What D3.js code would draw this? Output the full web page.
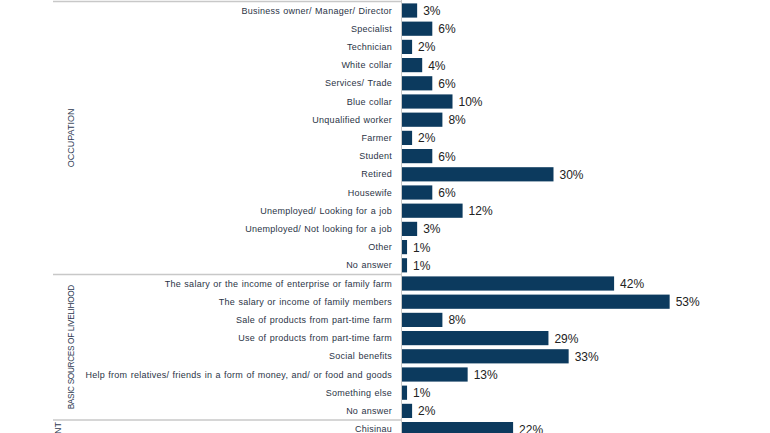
<!DOCTYPE html>
<html>
<head>
<meta charset="utf-8">
<script src="https://cdn.jsdelivr.net/npm/d3@7"></script>
<style>
  body { margin: 0; background: #fff; }
  svg { display: block; }
</style>
</head>
<body>
<svg width="770" height="433"></svg>
<script>
const occupation = [
  "Business owner/ Manager/ Director", "Specialist", "Technician", "White collar",
  "Services/ Trade", "Blue collar", "Unqualified worker", "Farmer", "Student",
  "Retired", "Housewife", "Unemployed/ Looking for a job",
  "Unemployed/ Not looking for a job", "Other", "No answer"
];
const occupationValues = [3, 6, 2, 4, 6, 10, 8, 2, 6, 30, 6, 12, 3, 1, 1];

const livelihood = [
  "The salary or the income of enterprise or family farm",
  "The salary or income of family members",
  "Sale of products from part-time farm",
  "Use of products from part-time farm",
  "Social benefits",
  "Help from relatives/ friends in a form of money, and/ or food and goods",
  "Something else",
  "No answer"
];
const livelihoodValues = [42, 53, 8, 29, 33, 13, 1, 2];

const settlement = ["Chisinau"];
const settlementValues = [22];

const groups = [
  { name: "OCCUPATION", labels: occupation, values: occupationValues },
  { name: "BASIC SOURCES OF LIVELIHOOD", labels: livelihood, values: livelihoodValues },
  { name: "TYPE OF SETTLEMENT", labels: settlement, values: settlementValues }
];

const svg = d3.select("svg"),
  width = +svg.attr("width"),
  height = +svg.attr("height");

const font = "Liberation Sans, Arial, sans-serif";

// flatten rows
const rows = [];
groups.forEach((g, gi) => {
  g.labels.forEach((l, i) => rows.push({ id: gi + "-" + i, label: l, value: g.values[i], group: gi }));
});

const y = d3.scaleBand()
  .domain(rows.map((d) => d.id))
  .range([1.4, 1.4 + rows.length * 18.2])
  .paddingInner(0.22)
  .paddingOuter(0.11);

const x = d3.scaleLinear().domain([0, 60]).range([402, 705]);

// group separators and rotated group names
let start = 0;
groups.forEach((g, gi) => {
  const first = rows[start];
  const last = rows[start + g.labels.length - 1];
  const top = y(first.id) - y.step() * y.paddingInner() / 2;
  const bottom = y(last.id) + y.bandwidth() + y.step() * y.paddingInner() / 2;
  svg.append("line")
    .attr("x1", 53).attr("x2", 401.5)
    .attr("y1", top).attr("y2", top)
    .attr("stroke", "#c8c8c8").attr("stroke-width", 1.5);
  const mid = (top + bottom) / 2;
  svg.append("text")
    .attr("transform", gi === 2
      ? `translate(58,${top + 2}) rotate(-90)`
      : `translate(71,${mid}) rotate(-90)`)
    .attr("text-anchor", gi === 2 ? "end" : "middle")
    .attr("dy", "0.35em")
    .attr("font-family", font)
    .attr("font-size", gi === 1 ? 8.2 : 9)
    .attr("letter-spacing", gi === 1 ? -0.3 : 0)
    .attr("fill", "#2e3a52")
    .text(g.name);
  start += g.labels.length;
});

// axis line
svg.append("line")
  .attr("x1", 401.5).attr("x2", 401.5)
  .attr("y1", 0).attr("y2", height)
  .attr("stroke", "#c8c8c8").attr("stroke-width", 1);

svg.append("g")
  .selectAll("text")
  .data(rows)
  .enter()
  .append("text")
  .attr("x", 392)
  .attr("y", (d) => y(d.id) + y.bandwidth() / 2)
  .attr("dy", "0.35em")
  .attr("text-anchor", "end")
  .attr("font-family", font)
  .attr("font-size", 9)
  .attr("letter-spacing", 0.25)
  .attr("word-spacing", 0.6)
  .attr("fill", "#2b3446")
  .text((d) => d.label);

svg.append("g")
  .selectAll("rect")
  .data(rows)
  .enter()
  .append("rect")
  .attr("x", x(0))
  .attr("y", (d) => y(d.id))
  .attr("width", (d) => x(d.value) - x(0))
  .attr("height", y.bandwidth())
  .attr("fill", "#0c3a5e");

svg.append("g")
  .selectAll("text")
  .data(rows)
  .enter()
  .append("text")
  .attr("x", (d) => x(d.value) + 6)
  .attr("y", (d) => y(d.id) + y.bandwidth() / 2)
  .attr("dy", "0.38em")
  .attr("font-family", font)
  .attr("font-size", 12)
  .attr("fill", "#222")
  .text((d) => d.value + "%");
</script>
</body>
</html>
